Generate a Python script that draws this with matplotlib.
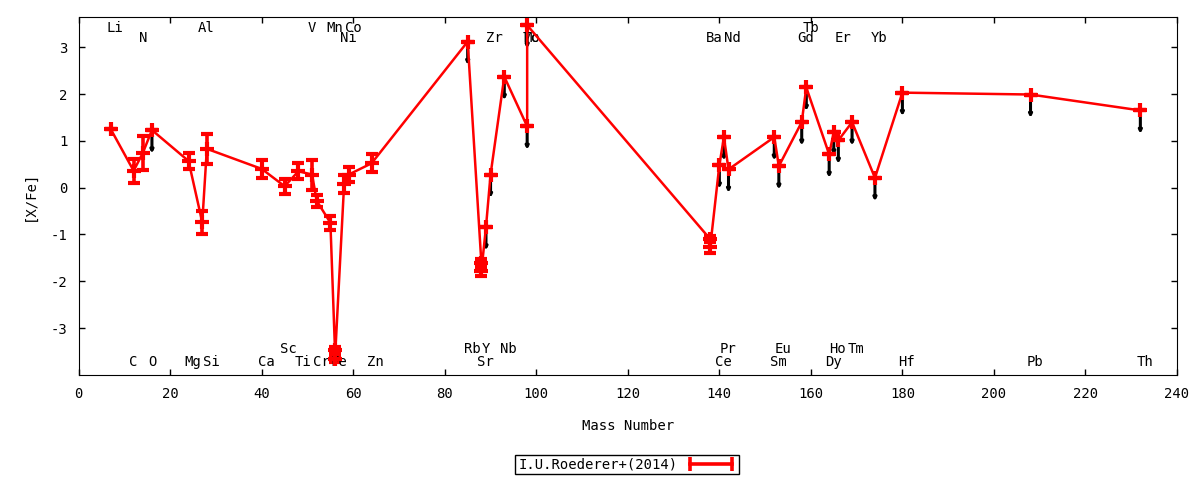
import matplotlib
matplotlib.use('Agg')
import matplotlib.pyplot as plt
from matplotlib.lines import Line2D

plt.rcParams['font.family'] = 'DejaVu Sans Mono'
plt.rcParams['font.size'] = 10
plt.rcParams['axes.unicode_minus'] = False

# abundance pattern, sorted by mass number
mass = [7, 12, 14, 16, 24, 27, 28, 40, 45, 48, 51, 52, 55, 56, 56, 58, 59, 64,
        85, 88, 88, 89, 90, 93, 98, 98,
        138, 138, 140, 141, 142, 152, 153, 158, 159, 164, 165, 166, 169, 174,
        180, 208, 232]
xfe = [1.25, 0.36, 0.74, 1.23, 0.57, -0.74, 0.83, 0.40, 0.03, 0.35, 0.28, -0.28,
       -0.75, -3.47, -3.66, 0.08, 0.28, 0.52,
       3.12, -1.62, -1.78, -0.84, 0.28, 2.37, 1.31, 3.47,
       -1.10, -1.27, 0.48, 1.08, 0.39, 1.08, 0.46, 1.40, 2.14, 0.71, 1.19, 1.01,
       1.40, 0.21, 2.03, 1.99, 1.65]
err = [0.0, 0.26, 0.37, 0.0, 0.18, 0.24, 0.32, 0.19, 0.16, 0.17, 0.32, 0.13,
       0.15, 0.06, 0.06, 0.20, 0.16, 0.19,
       0.0, 0.10, 0.10, 0.0, 0.0, 0.0, 0.0, 0.0,
       0.07, 0.12, 0.0, 0.0, 0.0, 0.0, 0.0, 0.0, 0.0, 0.0, 0.0, 0.0,
       0.0, 0.0, 0.0, 0.0, 0.0]
# 1 = upper limit
ulim = [0, 0, 0, 1, 0, 0, 0, 0, 0, 0, 0, 0, 0, 0, 0, 0, 0, 0,
        1, 0, 0, 1, 1, 1, 1, 1,
        0, 0, 1, 1, 1, 1, 1, 1, 1, 1, 1, 1, 1, 1, 1, 1, 1]

# element names along top / bottom of the frame
el_name = ['Li', 'C', 'N', 'O', 'Mg', 'Al', 'Si', 'Ca', 'Sc', 'Ti', 'V', 'Cr',
           'Mn', 'Fe', 'Co', 'Ni', 'Zn', 'Rb', 'Sr', 'Y', 'Zr', 'Nb', 'Mo', 'Tc',
           'Ba', 'Ce', 'Pr', 'Nd', 'Sm', 'Eu', 'Gd', 'Tb', 'Dy', 'Ho', 'Er', 'Tm',
           'Yb', 'Hf', 'Pb', 'Th']
el_mass = [7, 12, 14, 16, 24, 27, 28, 40, 45, 48, 51, 52, 55, 56, 59, 58, 64,
           85, 88, 89, 90, 93, 98, 98, 138, 140, 141, 142, 152, 153, 158, 159,
           164, 165, 166, 169, 174, 180, 208, 232]
el_y = [3.41, -3.72, 3.20, -3.72, -3.72, 3.41, -3.72, -3.72, -3.44, -3.72,
        3.41, -3.72, 3.41, -3.72, 3.41, 3.20, -3.72, -3.44, -3.72, -3.44,
        3.20, -3.44, 3.20, 3.20, 3.20, -3.72, -3.44, 3.20, -3.72, -3.44,
        3.20, 3.41, -3.72, -3.44, 3.20, -3.44, 3.20, -3.72, -3.72, -3.72]

fig = plt.figure(figsize=(12, 4.8), dpi=100)
ax = fig.add_axes([0.0656, 0.219, 0.9152, 0.745])

ax.errorbar(mass, xfe, yerr=err, color='red', lw=1.8, elinewidth=2.6,
            capsize=4, capthick=2.6, marker='+', ms=10, mew=3, zorder=3)

for m, v, u in zip(mass, xfe, ulim):
    if u:
        ax.annotate('', xy=(m, v - 0.5), xytext=(m, v),
                    arrowprops=dict(arrowstyle='-|>', color='black', lw=2.2,
                                    mutation_scale=4, shrinkA=0, shrinkB=0),
                    zorder=2)

for n, m, y in zip(el_name, el_mass, el_y):
    ax.annotate(n, (m, y), xytext=(-3, 0), textcoords='offset points',
                ha='left', va='center', fontsize=10)

ax.set_xlim(0, 240)
ax.set_ylim(-4, 3.64)
ax.set_xticks(range(0, 241, 20))
ax.set_yticks([-3, -2, -1, 0, 1, 2, 3])
ax.tick_params(direction='in', top=True, right=True, length=4, width=1)
ax.tick_params(axis='x', pad=9)
ax.tick_params(axis='y', pad=8)
ax.set_xlabel('Mass Number', labelpad=13)
ax.set_ylabel('[X/Fe]', labelpad=10)

h = Line2D([], [], color='red', lw=2.6, marker='|', ms=10, mew=2.6)
fig.legend([h], ['I.U.Roederer+(2014)'], loc='center',
           bbox_to_anchor=(0.5225, 0.0323), markerfirst=False, numpoints=2,
           fancybox=False, edgecolor='black', framealpha=1, handlelength=3.6,
           borderpad=0.2, borderaxespad=0, handletextpad=0.6)

fig.savefig('out.png', dpi=100)
